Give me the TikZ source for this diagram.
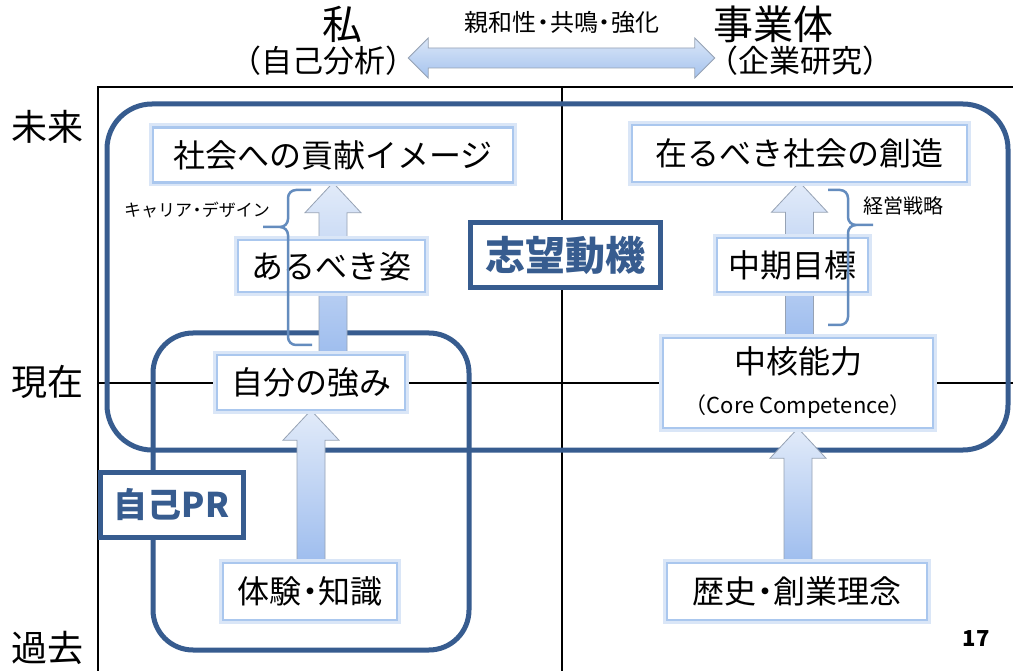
\documentclass[tikz,border=0pt]{standalone}
\usepackage{fontspec}
\setmainfont{Noto Sans CJK JP}
\usetikzlibrary{calc}
\definecolor{dkblue}{RGB}{55,92,143}
\definecolor{boxline}{RGB}{170,199,238}
\definecolor{boxglow}{RGB}{218,230,247}
\definecolor{arrtop}{RGB}{226,235,249}
\definecolor{arrbot}{RGB}{158,189,238}
\definecolor{arrline}{RGB}{150,162,180}
\definecolor{bracec}{RGB}{100,140,190}
\newcommand\fs[1]{\fontsize{#1}{#1}\selectfont}
\newcommand\mdot{\kern-0.22em・\kern-0.22em}
\tikzset{
  wbox/.style={fill=white, draw=boxline, line width=2.5pt, inner sep=0pt,
    preaction={draw=boxglow, line width=8pt}, font=\fs{32}},
  tagbox/.style={fill=white, draw=dkblue, line width=5pt, inner sep=0pt,
    text=dkblue, font=\bfseries},
  region/.style={draw=dkblue, line width=5pt},
  gridline/.style={draw=black, line width=2pt},
  barrow/.style={top color=arrtop, bottom color=arrbot, draw=arrline, line width=0.8pt},
  bracestyle/.style={draw=bracec, line width=2.5pt},
  lbl/.style={inner sep=0pt}
}
\newcommand\blockup[2]{%
  \path[barrow] let \p1=#1, \p2=#2 in
    (\x2-14pt,\y1) -- (\x2-14pt,\y2-30pt) -- (\x2-28pt,\y2-30pt) -- (\x2,\y2)
    -- (\x2+28pt,\y2-30pt) -- (\x2+14pt,\y2-30pt) -- (\x2+14pt,\y1) -- cycle;}
\begin{document}
\begin{tikzpicture}[x=1pt,y=-1pt]
\useasboundingbox (0,0) rectangle (1013,671);
\fill[white] (0,0) rectangle (1013,671);

% grid
\draw[gridline] (1013,87) -- (98,87) -- (98,671);
\draw[gridline] (562,87) -- (562,671);
\draw[gridline] (98,383) -- (1013,383);

% regions
\draw[region, rounded corners=45pt] (107,104) rectangle (1008,450);
\draw[region, rounded corners=40pt] (153,333) rectangle (469,650);

% headings
\node[lbl, font=\fs{40}] (watashi) at (342,24) {私};
\node[lbl, font=\fs{40}] (jigyo) at (773,24) {事業体};
\node[lbl, font=\fs{31}] (jiko) at (323,61) {（自己分析）};
\node[lbl, font=\fs{31}] (kigyo) at (800,61) {（企業研究）};
\node[lbl, font=\fs{24}] (shinwa) at (562,22) {親和性\mdot 共鳴\mdot 強化};
\path[barrow, top color=boxglow, bottom color={rgb,255:red,165;green,195;blue,238}]
  let \p1=(jiko.east), \p2=(kigyo.west) in
  (\x1-8pt,\y1+3pt) -- (\x1+12pt,\y1+23pt) -- (\x1+12pt,\y1+13pt) -- (\x2-12pt,\y1+13pt)
  -- (\x2-12pt,\y1+23pt) -- (\x2+8pt,\y1+3pt) -- (\x2-12pt,\y1-17pt) -- (\x2-12pt,\y1-7pt)
  -- (\x1+12pt,\y1-7pt) -- (\x1+12pt,\y1-17pt) -- cycle;

% time labels
\node[lbl, font=\fs{36}] (mirai) at (48,127) {未来};
\node[lbl, font=\fs{36}] (genzai) at (48,382) {現在};
\node[lbl, font=\fs{36}] (kako) at (48,648) {過去};

% box positions
\coordinate (pkouken) at (333,155);
\coordinate (parubeki) at (331.5,266);
\coordinate (ptsuyomi) at (311,382.5);
\coordinate (ptaiken) at (310,591.5);
\coordinate (psouzou) at (799.5,153.5);
\coordinate (pchuki) at (792.5,265);
\coordinate (pchukaku) at (798,383);
\coordinate (prekishi) at (797,591.5);

% invisible anchors for the arrows (drawn before boxes)
\path (pkouken) node[minimum width=360pt, minimum height=55pt, inner sep=0pt] (kouken0) {};
\path (ptsuyomi) node[minimum width=188pt, minimum height=55pt, inner sep=0pt] (tsuyomi0) {};
\path (ptaiken) node[minimum width=174pt, minimum height=57pt, inner sep=0pt] (taiken0) {};
\path (psouzou) node[minimum width=335pt, minimum height=57pt, inner sep=0pt] (souzou0) {};
\path (pchukaku) node[minimum width=270pt, minimum height=90pt, inner sep=0pt] (chukaku0) {};
\path (prekishi) node[minimum width=260pt, minimum height=57pt, inner sep=0pt] (rekishi0) {};

\blockup{(tsuyomi0.north -| kouken0.south)}{(kouken0.south)}
\blockup{(taiken0.north)}{(tsuyomi0.south)}
\blockup{(chukaku0.north -| souzou0.south)}{(souzou0.south)}
\blockup{(rekishi0.north -| chukaku0.south)}{(chukaku0.south)}

% boxes
\node[wbox, minimum width=360pt, minimum height=55pt] (kouken) at (pkouken) {社会への貢献イメージ};
\node[wbox, minimum width=187pt, minimum height=52pt] (arubeki) at (parubeki) {あるべき姿};
\node[wbox, minimum width=188pt, minimum height=55pt] (tsuyomi) at (ptsuyomi) {自分の強み};
\node[wbox, minimum width=174pt, minimum height=57pt] (taiken) at (ptaiken) {体験\mdot 知識};
\node[wbox, minimum width=335pt, minimum height=57pt] (souzou) at (psouzou) {在るべき社会の創造};
\node[wbox, minimum width=151pt, minimum height=54pt] (chuki) at (pchuki) {中期目標};
\node[wbox, minimum width=270pt, minimum height=90pt, align=center] (chukaku) at (pchukaku)
  {\fs{32}中核能力\\[8pt]\fs{22}（Core Competence）};
\node[wbox, minimum width=260pt, minimum height=57pt] (rekishi) at (prekishi) {歴史\mdot 創業理念};

% braces
\draw[bracestyle] (311,190) -- (296,190) to[out=180,in=90] (288,198) -- (288,219)
  to[out=-90,in=0] (280,227) -- (263,227);
\draw[bracestyle] (280,227) to[out=0,in=90] (288,235) -- (288,337)
  to[out=-90,in=180] (296,345) -- (312,345);
\draw[bracestyle] (828,190) -- (840,190) to[out=0,in=90] (848,198) -- (848,217)
  to[out=-90,in=180] (856,225) -- (873,225);
\draw[bracestyle] (856,225) to[out=180,in=90] (848,233) -- (848,317)
  to[out=-90,in=0] (840,325) -- (828,325);
\node[lbl, font=\fs{17}] (career) at (197,210) {キャリア\mdot デザイン};
\node[lbl, font=\fs{20}] (keiei) at (903,206) {経営戦略};

% tags
\node[tagbox, minimum width=190pt, minimum height=65pt, font=\fs{40}\bfseries] (shibou) at (565,255.5) {志望動機};
\node[tagbox, minimum width=143pt, minimum height=65pt, font=\fs{34}\bfseries] (jikopr) at (171.5,504.5) {自己PR};

% page number
\node[lbl, font=\fs{22}\bfseries] (pageno) at (976,639) {17};
\end{tikzpicture}
\end{document}
